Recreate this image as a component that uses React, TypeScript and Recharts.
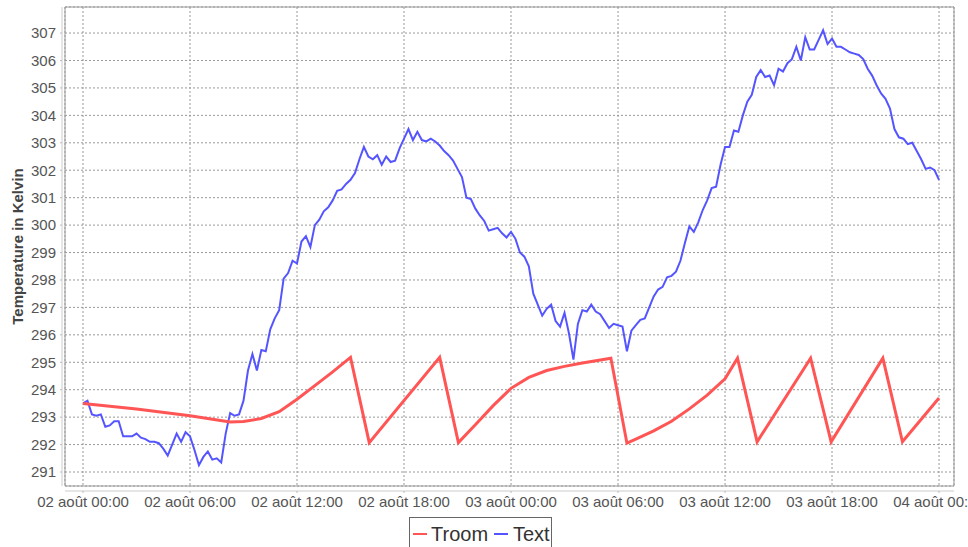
import { LineChart, Line, XAxis, YAxis, CartesianGrid, ReferenceArea } from "recharts";

// time axis in hours since 02 août 00:00
const xTicks = [0, 6, 12, 18, 24, 30, 36, 42, 48];
const xTickLabels = [
  "02 août 00:00",
  "02 août 06:00",
  "02 août 12:00",
  "02 août 18:00",
  "03 août 00:00",
  "03 août 06:00",
  "03 août 12:00",
  "03 août 18:00",
  "04 août 00:00",
];
const yTicks = [291, 292, 293, 294, 295, 296, 297, 298, 299, 300, 301, 302, 303, 304, 305, 306, 307];
const xDomain = [-1.01, 48.84];
const yDomain = [290.49, 307.95];

const seriesNames = ["Troom", "Text"];
const seriesColors = ["#ff5555", "#5555ff"];

const troomHours = [
  0, 3, 6, 8.25, 9, 10, 11, 12, 13, 14, 15, 16.05, 20, 21.05, 22, 23, 24, 25, 26, 27, 28, 29.6,
  30.5, 31, 32, 33, 34, 35, 36, 36.7, 37.8, 40.8, 41.95, 44.85, 45.95, 48,
];
const troomKelvin = [
  293.5, 293.3, 293.05, 292.82, 292.84, 292.95, 293.2, 293.65, 294.15, 294.65, 295.18, 292.07, 295.18,
  292.07, 292.72, 293.42, 294.05, 294.45, 294.7, 294.85, 294.97, 295.15, 292.05, 292.2, 292.5, 292.85,
  293.3, 293.8, 294.4, 295.15, 292.1, 295.15, 292.1, 295.15, 292.1, 293.7,
];

// Text sampled every 0.25 h
const textStepHours = 0.25;
const textKelvin = [
  293.5, 293.6, 293.1, 293.05, 293.1, 292.65, 292.7, 292.85, 292.85, 292.3, 292.3, 292.3, 292.4, 292.25,
  292.2, 292.1, 292.1, 292.05, 291.85, 291.6, 292.0, 292.4, 292.1, 292.45, 292.3, 291.8, 291.25, 291.55,
  291.75, 291.45, 291.5, 291.35, 292.4, 293.15, 293.05, 293.1, 293.6, 294.7, 295.3, 294.7, 295.45, 295.4,
  296.2, 296.6, 296.9, 298.05, 298.25, 298.7, 298.6, 299.4, 299.6, 299.2, 300.0, 300.2, 300.5, 300.65,
  300.9, 301.25, 301.3, 301.5, 301.65, 301.9, 302.4, 302.85, 302.5, 302.4, 302.55, 302.2, 302.5, 302.3,
  302.35, 302.8, 303.15, 303.5, 303.1, 303.4, 303.1, 303.05, 303.15, 303.05, 302.9, 302.7, 302.55, 302.35,
  302.05, 301.75, 301.0, 300.95, 300.6, 300.35, 300.15, 299.8, 299.85, 299.9, 299.7, 299.55, 299.75,
  299.5, 299.0, 298.85, 298.5, 297.5, 297.1, 296.7, 296.95, 297.1, 296.5, 296.3, 296.8, 296.05, 295.1,
  296.4, 296.9, 296.85, 297.1, 296.85, 296.75, 296.5, 296.25, 296.4, 296.35, 296.3, 295.4, 296.15, 296.35,
  296.55, 296.6, 297.0, 297.4, 297.65, 297.75, 298.1, 298.15, 298.3, 298.7, 299.35, 299.95, 299.75, 300.1,
  300.55, 300.9, 301.35, 301.4, 302.2, 302.85, 302.85, 303.45, 303.4, 304.0, 304.5, 304.75, 305.4, 305.65,
  305.4, 305.45, 305.1, 305.7, 305.6, 305.9, 306.05, 306.5, 306.0, 306.85, 306.4, 306.4, 306.75, 307.1,
  306.6, 306.8, 306.5, 306.5, 306.4, 306.3, 306.25, 306.2, 306.05, 305.7, 305.45, 305.1, 304.8, 304.6,
  304.25, 303.5, 303.2, 303.15, 302.95, 303.0, 302.7, 302.4, 302.05, 302.1, 302.0, 301.65,
];

const troomData = troomHours.map((h, i) => ({ h, k: troomKelvin[i] }));
const textData = textKelvin.map((k, i) => ({ h: i * textStepHours, k }));

export default function App() {
  return (
    <div
      style={{
        position: "absolute",
        left: 0,
        top: 0,
        width: 968,
        height: 547,
        background: "#fff",
        fontFamily: '"Liberation Sans", Arial, sans-serif',
      }}
    >
      <LineChart width={968} height={547} margin={{ top: 7, right: 14, bottom: 31, left: 5 }}>
        <CartesianGrid stroke="#999" strokeDasharray="2 2" />
        <XAxis
          type="number"
          dataKey="h"
          domain={xDomain}
          ticks={xTicks}
          interval={0}
          allowDataOverflow
          tickFormatter={(v) => xTickLabels[xTicks.indexOf(v)]}
          tick={{ fill: "#555", fontSize: 15 }}
          tickSize={2}
          tickMargin={8}
          height={30}
          axisLine={{ stroke: "#ccc", transform: "translate(0,5)" }}
          tickLine={{ stroke: "#bbb", transform: "translate(0,5)" }}
        />
        <YAxis
          type="number"
          domain={yDomain}
          ticks={yTicks}
          allowDataOverflow
          width={60}
          tick={{ fill: "#555", fontSize: 15 }}
          tickSize={2}
          tickMargin={7}
          axisLine={{ stroke: "#ccc", transform: "translate(-3,0)" }}
          tickLine={{ stroke: "#bbb", transform: "translate(-3,0)" }}
          label={{
            value: "Temperature in Kelvin",
            angle: -90,
            position: "center",
            dx: -17,
            style: { fontWeight: "bold", fontSize: 15, fill: "#444" },
          }}
        />
        <ReferenceArea
          x1={xDomain[0]}
          x2={xDomain[1]}
          y1={yDomain[0]}
          y2={yDomain[1]}
          fill="none"
          stroke="#999"
          ifOverflow="visible"
        />
        <Line
          data={textData}
          dataKey="k"
          name={seriesNames[1]}
          stroke={seriesColors[1]}
          strokeWidth={2}
          dot={false}
          isAnimationActive={false}
        />
        <Line
          data={troomData}
          dataKey="k"
          name={seriesNames[0]}
          stroke={seriesColors[0]}
          strokeWidth={3}
          dot={false}
          isAnimationActive={false}
        />
      </LineChart>
      <div
        style={{
          position: "absolute",
          left: 409,
          top: 517,
          width: 143,
          height: 40,
          border: "1px solid #666",
          boxSizing: "border-box",
          fontSize: 20,
          lineHeight: "20px",
          color: "#333",
        }}
      >
        {seriesNames.map((name, i) => (
          <div key={name}>
            <div
              style={{
                position: "absolute",
                left: i === 0 ? 3 : 84,
                top: 15,
                width: 14,
                height: 2,
                background: seriesColors[i],
              }}
            />
            <div style={{ position: "absolute", left: i === 0 ? 21 : 103, top: 6 }}>{name}</div>
          </div>
        ))}
      </div>
    </div>
  );
}
